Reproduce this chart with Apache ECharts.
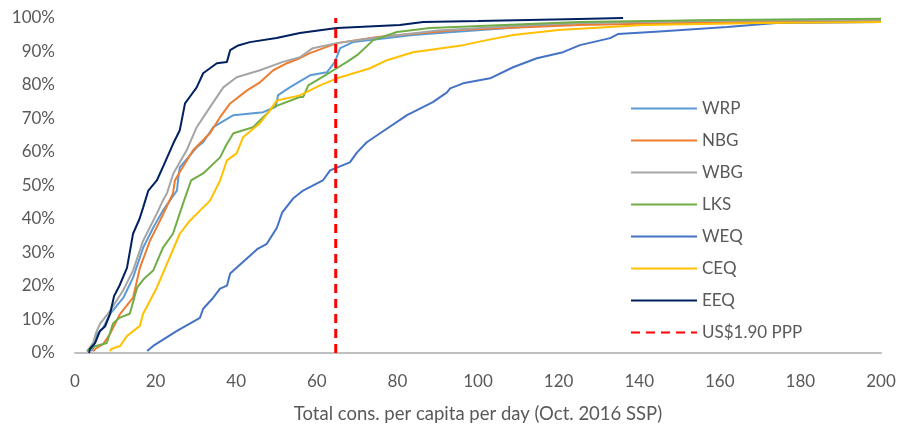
<!DOCTYPE html>
<html>
<head>
<meta charset="utf-8">
<script src="https://cdn.jsdelivr.net/npm/echarts@6/dist/echarts.min.js"></script>
<style>
  html, body { margin: 0; padding: 0; background: #fff; }
  #chart { width: 899px; height: 425px; }
</style>
</head>
<body>
<div id="chart"></div>
<script>
// Cumulative distributions of total consumption per capita per day, by region.
// Each point: [consumption (Oct. 2016 SSP), cumulative share of population in %]
const wrp = [[4,0.5],[4.5,1.5],[5.5,5.7],[7,7.5],[8.7,11.7],[12,16.5],[14.4,22.5],[16.9,31.4],[19.4,37.4],[21.8,42.5],[25.3,48.5],[25.6,52],[26,55.4],[30.2,61.4],[31.8,62.9],[34.3,67.4],[39.3,71],[46.7,71.9],[49.8,73.5],[50.4,77],[53.3,79.3],[58.3,82.9],[62.5,83.8],[64.5,86.9],[65.8,91],[69,92.8],[83.9,94.9],[93.8,95.8],[125,98.5],[160,99.3],[200,99.6]];
const nbg = [[4.5,0.5],[5,1.2],[7,2.7],[8.7,5.7],[11.2,11.7],[14.4,16.5],[16.1,25.4],[18.6,33.5],[21.1,39.5],[24.3,47.6],[24.8,51.5],[26,54],[29.3,60.5],[33.5,65.6],[36,70.4],[38.5,74.5],[42.7,78.4],[45.9,80.8],[49.2,84.4],[52.6,86.5],[55.8,88],[58.3,89.5],[65,92.5],[75,94.3],[94.8,96.4],[125,97.9],[160,98.7],[200,99.2]];
const wbg = [[3,0.5],[4.5,3],[5.2,6],[6.2,8.7],[8.7,12.6],[11.9,18.6],[14.4,24.6],[16.9,33.5],[20.3,41.6],[21.8,45.5],[22.8,47.6],[24.4,53.6],[27.7,60.5],[30.2,67.4],[33.5,73.4],[36.8,79.3],[40.1,82.3],[45.9,84.4],[51.6,86.9],[55.8,88.3],[59,91],[65,92.5],[74,94],[90,96.3],[110,97.7],[125,98.5],[160,99.2],[200,99.5]];
const lks = [[3,0.5],[3.5,1.2],[5,2],[7.9,3],[9.4,8.7],[11,10.5],[13.6,11.7],[15.4,19.5],[17,22],[19.4,24.6],[21.8,31.4],[24.3,35.6],[26.8,44.6],[28.8,51.5],[31.8,53.6],[36,58.4],[37.5,62],[39.3,65.6],[44.2,67.4],[49.2,73.4],[55.8,76.4],[56.6,76.4],[57.9,79.9],[63.3,83.8],[67.5,86.9],[70,88.9],[74,93.4],[79.9,95.8],[88.1,97],[125,98.8],[160,99.4],[200,99.8]];
const weq = [[17.9,0.6],[19.4,2.1],[25.3,6.6],[31,10.5],[31.8,13.2],[34.3,16.5],[36,19.2],[37.7,20.1],[38.5,23.7],[45.2,31],[47.6,32.6],[50.1,37.4],[51.4,41.9],[54.1,46.1],[56.6,48.5],[61.5,51.5],[63.3,54.5],[68.2,56.9],[70,59.9],[72.4,62.9],[75.7,65.6],[82.4,71],[88.8,74.9],[92.3,77.8],[93.1,79],[96.3,80.5],[103,82],[108.7,85.3],[114.6,88],[121.1,89.8],[125.3,91.9],[132.8,94],[134.7,95.2],[145,96],[161.8,97.3],[174,98.5],[200,98.8]];
const ceq = [[8.7,0.5],[9,1.2],[11.2,2.1],[12.9,5.1],[16.1,8.1],[16.9,11.7],[20.3,19.5],[22.8,26.6],[26,35.6],[28.5,39.5],[31,42.5],[32.8,44.6],[33.5,45.5],[36,51.5],[37.7,57.5],[40.1,59.6],[41.7,64.4],[45.9,68.6],[48.4,72.5],[50.1,75.4],[55.8,76.9],[60.8,79.9],[65,82],[67.5,82.9],[73.2,85],[77.4,87.4],[83.9,89.8],[96.3,91.9],[102.2,93.4],[108.7,94.9],[120,96.4],[141,97.9],[170,98.5],[200,98.8]];
const eeq = [[3.5,0],[3.7,1.2],[5,3],[6.2,6.6],[7.5,8],[8.7,11.7],[9.7,17],[11,20],[12.9,25.4],[14.4,35.6],[16,40],[16.9,43.4],[18.2,48.5],[20.3,51.5],[22,56],[24.4,62.6],[26,66.5],[27.3,74.5],[28.5,76.5],[30.2,79.3],[31.8,83.5],[33.5,85],[35.2,86.5],[37.7,86.9],[38.5,90.4],[40.5,91.8],[43.4,92.8],[50,94],[55.8,95.5],[57.6,95.8],[65,97],[80.6,97.9],[86.4,98.8],[100,99.1],[125,99.7],[136,100]];
// Poverty line (US$1.90 PPP) expressed in SSP
const povertyLine = 64.7;
const povertySpan = [0, 100];

const xTicks = { min: 0, max: 200, step: 20 };
const yTicks = { min: 0, max: 100, step: 10 };

const names = ['WRP', 'NBG', 'WBG', 'LKS', 'WEQ', 'CEQ', 'EEQ'];
const values = [wrp, nbg, wbg, lks, weq, ceq, eeq];
const colors = ['#5B9BD5', '#ED7D31', '#A5A5A5', '#70AD47', '#4472C4', '#FFC000', '#002060'];
const povertyName = 'US$1.90 PPP';

const font = 'Lato, "Open Sans", sans-serif';
const textColor = '#595959';

const series = names.map((n, i) => ({
  name: n,
  type: 'line',
  data: values[i],
  symbol: 'none',
  lineStyle: { width: 2, color: colors[i] },
  itemStyle: { color: colors[i] },
  animation: false,
  z: 2 + i
}));
series.push({
  name: povertyName,
  type: 'line',
  data: povertySpan.map(v => [povertyLine, v]),
  symbol: 'none',
  lineStyle: { width: 3, color: '#FF0000', type: [9, 6] },
  itemStyle: { color: '#FF0000' },
  animation: false,
  z: 20
});

const chart = echarts.init(document.getElementById('chart'), null, { renderer: 'canvas' });
chart.setOption({
  backgroundColor: '#ffffff',
  animation: false,
  textStyle: { fontFamily: font },
  grid: { left: 75, right: 18, top: 18, bottom: 72, containLabel: false, outerBoundsMode: 'none' },
  xAxis: {
    type: 'value',
    min: xTicks.min, max: xTicks.max, interval: xTicks.step,
    name: 'Total cons. per capita per day (Oct. 2016 SSP)',
    nameLocation: 'middle',
    nameGap: 52,
    nameTextStyle: { color: textColor, fontSize: 18.5, fontFamily: font },
    axisLine: { show: true, lineStyle: { color: '#BFBFBF', width: 2 } },
    axisTick: { show: false },
    splitLine: { show: false },
    axisLabel: { color: textColor, fontSize: 17, fontFamily: font, margin: 20 }
  },
  yAxis: {
    type: 'value',
    min: yTicks.min, max: yTicks.max, interval: yTicks.step,
    axisLine: { show: false },
    axisTick: { show: false },
    splitLine: { show: false },
    axisLabel: { color: textColor, fontSize: 17, fontFamily: font, margin: 20, formatter: '{value}%' }
  },
  legend: {
    orient: 'vertical',
    left: 625,
    top: 95,
    itemWidth: 66,
    itemHeight: 16,
    itemGap: 15,
    itemStyle: { opacity: 0 },
    textStyle: { color: textColor, fontSize: 17, fontFamily: font },
    data: names.concat([povertyName])
  },
  series: series
});
</script>
</body>
</html>
